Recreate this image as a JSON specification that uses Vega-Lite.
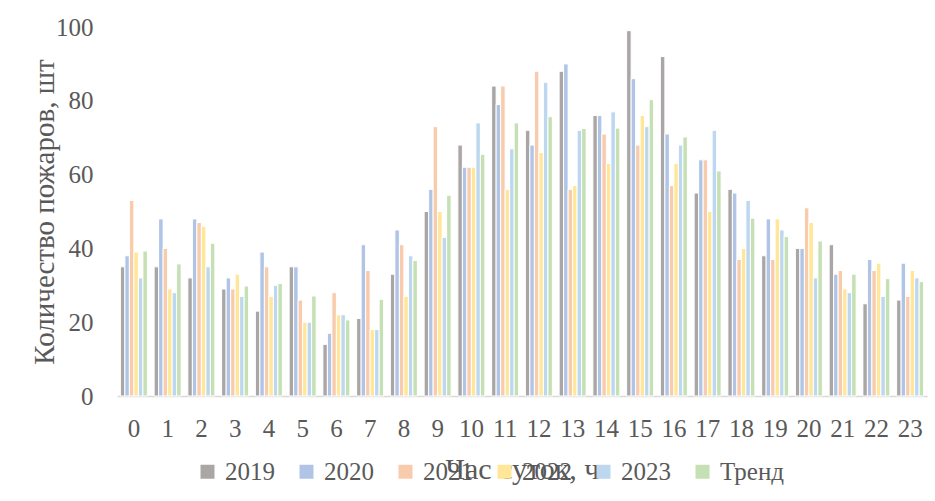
{
  "$schema": "https://vega.github.io/schema/vega-lite/v6.json",
  "autosize": "none",
  "width": 810,
  "height": 369,
  "padding": {"left": 117, "top": 27, "right": 8, "bottom": 105},
  "background": "white",
  "config": {
    "view": {"stroke": null},
    "font": "Liberation Serif"
  },
  "data": {
    "values": [
      {"hour": 0, "series": "2019", "count": 35}, {"hour": 0, "series": "2020", "count": 38}, {"hour": 0, "series": "2021", "count": 53}, {"hour": 0, "series": "2022", "count": 39}, {"hour": 0, "series": "2023", "count": 32}, {"hour": 0, "series": "Тренд", "count": 39.3},
      {"hour": 1, "series": "2019", "count": 35}, {"hour": 1, "series": "2020", "count": 48}, {"hour": 1, "series": "2021", "count": 40}, {"hour": 1, "series": "2022", "count": 29}, {"hour": 1, "series": "2023", "count": 28}, {"hour": 1, "series": "Тренд", "count": 35.8},
      {"hour": 2, "series": "2019", "count": 32}, {"hour": 2, "series": "2020", "count": 48}, {"hour": 2, "series": "2021", "count": 47}, {"hour": 2, "series": "2022", "count": 46}, {"hour": 2, "series": "2023", "count": 35}, {"hour": 2, "series": "Тренд", "count": 41.4},
      {"hour": 3, "series": "2019", "count": 29}, {"hour": 3, "series": "2020", "count": 32}, {"hour": 3, "series": "2021", "count": 29}, {"hour": 3, "series": "2022", "count": 33}, {"hour": 3, "series": "2023", "count": 27}, {"hour": 3, "series": "Тренд", "count": 29.8},
      {"hour": 4, "series": "2019", "count": 23}, {"hour": 4, "series": "2020", "count": 39}, {"hour": 4, "series": "2021", "count": 35}, {"hour": 4, "series": "2022", "count": 27}, {"hour": 4, "series": "2023", "count": 30}, {"hour": 4, "series": "Тренд", "count": 30.5},
      {"hour": 5, "series": "2019", "count": 35}, {"hour": 5, "series": "2020", "count": 35}, {"hour": 5, "series": "2021", "count": 26}, {"hour": 5, "series": "2022", "count": 20}, {"hour": 5, "series": "2023", "count": 20}, {"hour": 5, "series": "Тренд", "count": 27.1},
      {"hour": 6, "series": "2019", "count": 14}, {"hour": 6, "series": "2020", "count": 17}, {"hour": 6, "series": "2021", "count": 28}, {"hour": 6, "series": "2022", "count": 22}, {"hour": 6, "series": "2023", "count": 22}, {"hour": 6, "series": "Тренд", "count": 20.6},
      {"hour": 7, "series": "2019", "count": 21}, {"hour": 7, "series": "2020", "count": 41}, {"hour": 7, "series": "2021", "count": 34}, {"hour": 7, "series": "2022", "count": 18}, {"hour": 7, "series": "2023", "count": 18}, {"hour": 7, "series": "Тренд", "count": 26.2},
      {"hour": 8, "series": "2019", "count": 33}, {"hour": 8, "series": "2020", "count": 45}, {"hour": 8, "series": "2021", "count": 41}, {"hour": 8, "series": "2022", "count": 27}, {"hour": 8, "series": "2023", "count": 38}, {"hour": 8, "series": "Тренд", "count": 36.7},
      {"hour": 9, "series": "2019", "count": 50}, {"hour": 9, "series": "2020", "count": 56}, {"hour": 9, "series": "2021", "count": 73}, {"hour": 9, "series": "2022", "count": 50}, {"hour": 9, "series": "2023", "count": 43}, {"hour": 9, "series": "Тренд", "count": 54.4},
      {"hour": 10, "series": "2019", "count": 68}, {"hour": 10, "series": "2020", "count": 62}, {"hour": 10, "series": "2021", "count": 62}, {"hour": 10, "series": "2022", "count": 62}, {"hour": 10, "series": "2023", "count": 74}, {"hour": 10, "series": "Тренд", "count": 65.5},
      {"hour": 11, "series": "2019", "count": 84}, {"hour": 11, "series": "2020", "count": 79}, {"hour": 11, "series": "2021", "count": 84}, {"hour": 11, "series": "2022", "count": 56}, {"hour": 11, "series": "2023", "count": 67}, {"hour": 11, "series": "Тренд", "count": 74},
      {"hour": 12, "series": "2019", "count": 72}, {"hour": 12, "series": "2020", "count": 68}, {"hour": 12, "series": "2021", "count": 88}, {"hour": 12, "series": "2022", "count": 66}, {"hour": 12, "series": "2023", "count": 85}, {"hour": 12, "series": "Тренд", "count": 75.7},
      {"hour": 13, "series": "2019", "count": 88}, {"hour": 13, "series": "2020", "count": 90}, {"hour": 13, "series": "2021", "count": 56}, {"hour": 13, "series": "2022", "count": 57}, {"hour": 13, "series": "2023", "count": 72}, {"hour": 13, "series": "Тренд", "count": 72.5},
      {"hour": 14, "series": "2019", "count": 76}, {"hour": 14, "series": "2020", "count": 76}, {"hour": 14, "series": "2021", "count": 71}, {"hour": 14, "series": "2022", "count": 63}, {"hour": 14, "series": "2023", "count": 77}, {"hour": 14, "series": "Тренд", "count": 72.6},
      {"hour": 15, "series": "2019", "count": 99}, {"hour": 15, "series": "2020", "count": 86}, {"hour": 15, "series": "2021", "count": 68}, {"hour": 15, "series": "2022", "count": 76}, {"hour": 15, "series": "2023", "count": 73}, {"hour": 15, "series": "Тренд", "count": 80.3},
      {"hour": 16, "series": "2019", "count": 92}, {"hour": 16, "series": "2020", "count": 71}, {"hour": 16, "series": "2021", "count": 57}, {"hour": 16, "series": "2022", "count": 63}, {"hour": 16, "series": "2023", "count": 68}, {"hour": 16, "series": "Тренд", "count": 70.2},
      {"hour": 17, "series": "2019", "count": 55}, {"hour": 17, "series": "2020", "count": 64}, {"hour": 17, "series": "2021", "count": 64}, {"hour": 17, "series": "2022", "count": 50}, {"hour": 17, "series": "2023", "count": 72}, {"hour": 17, "series": "Тренд", "count": 61},
      {"hour": 18, "series": "2019", "count": 56}, {"hour": 18, "series": "2020", "count": 55}, {"hour": 18, "series": "2021", "count": 37}, {"hour": 18, "series": "2022", "count": 40}, {"hour": 18, "series": "2023", "count": 53}, {"hour": 18, "series": "Тренд", "count": 48.2},
      {"hour": 19, "series": "2019", "count": 38}, {"hour": 19, "series": "2020", "count": 48}, {"hour": 19, "series": "2021", "count": 37}, {"hour": 19, "series": "2022", "count": 48}, {"hour": 19, "series": "2023", "count": 45}, {"hour": 19, "series": "Тренд", "count": 43.2},
      {"hour": 20, "series": "2019", "count": 40}, {"hour": 20, "series": "2020", "count": 40}, {"hour": 20, "series": "2021", "count": 51}, {"hour": 20, "series": "2022", "count": 47}, {"hour": 20, "series": "2023", "count": 32}, {"hour": 20, "series": "Тренд", "count": 42},
      {"hour": 21, "series": "2019", "count": 41}, {"hour": 21, "series": "2020", "count": 33}, {"hour": 21, "series": "2021", "count": 34}, {"hour": 21, "series": "2022", "count": 29}, {"hour": 21, "series": "2023", "count": 28}, {"hour": 21, "series": "Тренд", "count": 33},
      {"hour": 22, "series": "2019", "count": 25}, {"hour": 22, "series": "2020", "count": 37}, {"hour": 22, "series": "2021", "count": 34}, {"hour": 22, "series": "2022", "count": 36}, {"hour": 22, "series": "2023", "count": 27}, {"hour": 22, "series": "Тренд", "count": 31.8},
      {"hour": 23, "series": "2019", "count": 26}, {"hour": 23, "series": "2020", "count": 36}, {"hour": 23, "series": "2021", "count": 27}, {"hour": 23, "series": "2022", "count": 34}, {"hour": 23, "series": "2023", "count": 32}, {"hour": 23, "series": "Тренд", "count": 31}
    ]
  },
  "mark": {"type": "bar", "stroke": "white", "strokeWidth": 1},
  "encoding": {
    "x": {
      "field": "hour",
      "type": "ordinal",
      "scale": {"paddingInner": 0.2, "paddingOuter": 0.1},
      "axis": {
        "title": "Час суток, ч",
        "titleFontSize": 30,
        "titleFontWeight": "normal",
        "titleColor": "#595959",
        "titleY": 82,
        "titleBaseline": "alphabetic",
        "labelAngle": 0,
        "labelFontSize": 25,
        "labelColor": "#595959",
        "labelPadding": 20,
        "ticks": false,
        "domainColor": "#d9d9d9",
        "domainWidth": 1.5,
        "grid": false
      }
    },
    "xOffset": {
      "field": "series",
      "type": "nominal",
      "sort": ["2019", "2020", "2021", "2022", "2023", "Тренд"]
    },
    "y": {
      "field": "count",
      "type": "quantitative",
      "scale": {"domain": [0, 100]},
      "axis": {
        "title": "Количество пожаров, шт",
        "titleFontSize": 29,
        "titleFontWeight": "normal",
        "titleColor": "#595959",
        "titlePadding": -4,
        "values": [0, 20, 40, 60, 80, 100],
        "labelFontSize": 25,
        "labelColor": "#595959",
        "labelPadding": 24,
        "domain": false,
        "ticks": false,
        "grid": false
      }
    },
    "color": {
      "field": "series",
      "type": "nominal",
      "sort": ["2019", "2020", "2021", "2022", "2023", "Тренд"],
      "scale": {
        "domain": ["2019", "2020", "2021", "2022", "2023", "Тренд"],
        "range": ["#aaa6a6", "#b0c4e6", "#f8cbad", "#ffe699", "#bdd7ee", "#c5e0b4"]
      },
      "legend": {
        "title": null,
        "orient": "none",
        "legendX": 78,
        "legendY": 432,
        "direction": "horizontal",
        "columns": 6,
        "padding": 0,
        "symbolType": "square",
        "symbolSize": 196,
        "symbolStrokeWidth": 0,
        "symbolOpacity": 1,
        "labelFontSize": 25,
        "labelColor": "#595959",
        "labelOffset": 5,
        "columnPadding": 19
      }
    }
  }
}
